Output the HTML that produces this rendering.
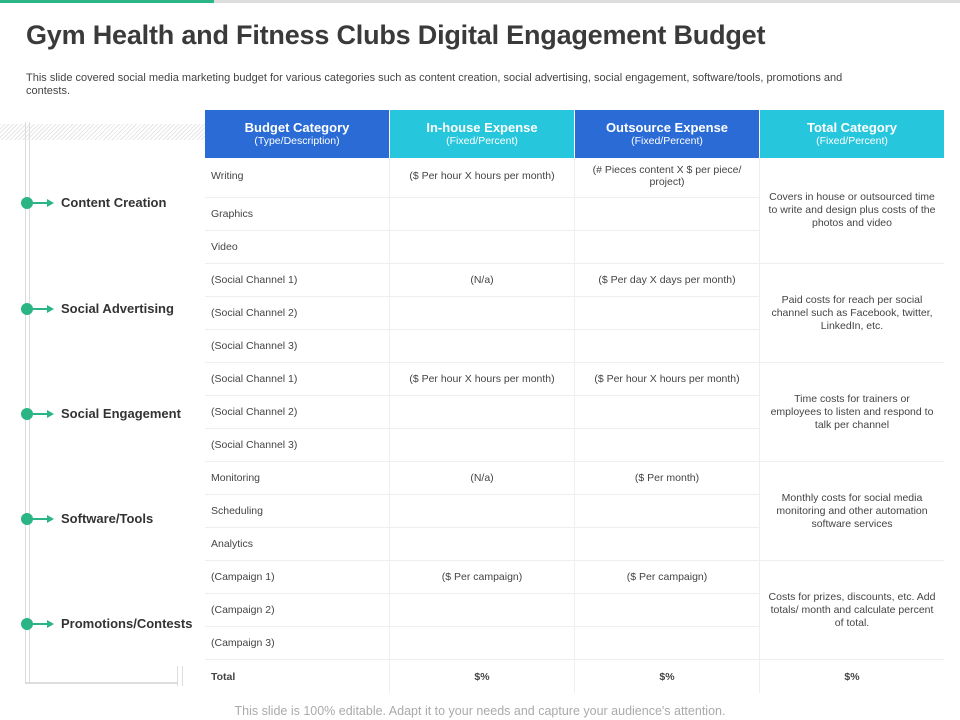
<!DOCTYPE html>
<html><head><meta charset="utf-8"><style>
body{margin:0;width:960px;height:720px;position:relative;overflow:hidden;background:#fff;font-family:"Liberation Sans",sans-serif;color:#444}
div{box-sizing:border-box}
.a{position:absolute}
.h{position:absolute;top:110px;height:48px;color:#fff;text-align:center;font-weight:bold;font-size:13px;padding-top:11px;line-height:14px}
.h small{display:block;font-weight:normal;font-size:10.5px;line-height:13px}
.c{position:absolute;font-size:10.5px;color:#444;display:flex;align-items:center;border-bottom:1px solid #eee;border-right:1px solid #eee}
.l{position:absolute;left:61px;font-weight:bold;font-size:13px;color:#333}
.dot{position:absolute;left:21px;width:12px;height:12px;border-radius:6px;background:#2bb585}
.ar{position:absolute;left:30px;width:18px;height:2px;background:#2bb585}
.ar:after{content:"";position:absolute;right:-6px;top:-3px;border-left:7px solid #2bb585;border-top:4px solid transparent;border-bottom:4px solid transparent}
</style></head><body>
<div class="a" style="left:0;top:0;width:214px;height:3px;background:#2bb585"></div>
<div class="a" style="left:214px;top:0;width:746px;height:3px;background:#ddd"></div>
<div class="a" style="left:26px;top:20px;font-size:27px;font-weight:bold;color:#3a3a3a;letter-spacing:-0.2px">Gym Health and Fitness Clubs Digital Engagement Budget</div>
<div class="a" style="left:26px;top:72px;width:830px;font-size:11px;line-height:13px;color:#444">This slide covered social media marketing budget for various categories such as content creation, social advertising, social engagement, software/tools, promotions and contests.</div>
<div class="a" style="left:0;top:124px;width:205px;height:16px;background:repeating-linear-gradient(135deg,#e6e6e6 0 1px,#fff 1px 3px)"></div>
<div class="a" style="left:25px;top:122px;width:5px;height:562px;border-left:1px solid #ddd;border-right:1px solid #ddd"></div>
<div class="a" style="left:25px;top:682px;width:153px;height:2px;background:#ddd"></div>
<div class="a" style="left:177px;top:666px;width:6px;height:20px;border-left:1px solid #ddd;border-right:1px solid #ddd"></div>
<div id="left"></div>
<div class="h" style="left:205px;width:184px;background:#2a6bd6">Budget Category<small>(Type/Description)</small></div>
<div class="h" style="left:390px;width:184px;background:#26c6dc">In-house Expense<small>(Fixed/Percent)</small></div>
<div class="h" style="left:575px;width:184px;background:#2a6bd6">Outsource Expense<small>(Fixed/Percent)</small></div>
<div class="h" style="left:760px;width:184px;background:#26c6dc">Total Category<small>(Fixed/Percent)</small></div>
<div id="tbl"></div>
<div class="a" style="left:0;width:960px;top:704px;text-align:center;font-size:12.5px;color:#aaa">This slide is 100% editable. Adapt it to your needs and capture your audience's attention.</div>
<script>
const groups=["Content Creation","Social Advertising","Social Engagement","Software/Tools","Promotions/Contests"];
const groupY=[203,309,414,519,624];
const rowLabels=["Writing","Graphics","Video","(Social Channel 1)","(Social Channel 2)","(Social Channel 3)","(Social Channel 1)","(Social Channel 2)","(Social Channel 3)","Monitoring","Scheduling","Analytics","(Campaign 1)","(Campaign 2)","(Campaign 3)"];
const inhouse=["($ Per hour X hours per month)","","","(N/a)","","","($ Per hour X hours per month)","","","(N/a)","","","($ Per campaign)","",""];
const outsource=["(# Pieces content X $ per piece/ project)","","","($ Per day X days per month)","","","($ Per hour X hours per month)","","","($ Per month)","","","($ Per campaign)","",""];
const totals=["Covers in house or outsourced time to write and design plus costs of the photos and video","Paid costs for reach per social channel such as Facebook, twitter, LinkedIn, etc.","Time costs for trainers or employees to listen and respond to talk per channel","Monthly costs for social media monitoring and other automation software services","Costs for prizes, discounts, etc. Add totals/ month and calculate percent of total."];
const L=document.getElementById('left');
groups.forEach((g,i)=>{
 const d=document.createElement('div');d.className='dot';d.style.top=(groupY[i]-6)+'px';
 
 L.appendChild(d);
 const a=document.createElement('div');a.className='ar';a.style.top=(groupY[i]-1)+'px';
 
 L.appendChild(a);
 const t=document.createElement('div');t.className='l';t.style.top=(groupY[i]-8)+'px';t.textContent=g;
 
 L.appendChild(t);
});
const T=document.getElementById('tbl');
const top0=158,rh=33,first=40;
function rowTop(i){return i===0?top0:top0+first+(i-1)*rh;}
function rowH(i){return i===0?first:rh;}
function cell(x,w,y,h,txt,center,name,extra){
 const c=document.createElement('div');c.className='c';
 c.style.left=x+'px';c.style.width=w+'px';c.style.top=y+'px';c.style.height=h+'px';
 c.style.justifyContent=center?'center':'flex-start';c.style.textAlign=center?'center':'left';
 c.style.padding=center?'0 10px':'0 0 0 6px';
 if(extra)Object.assign(c.style,extra);
 c.textContent=txt;
 
 
 T.appendChild(c);return c;
}
rowLabels.forEach((r,i)=>{
 const y=rowTop(i),h=rowH(i);
 const ex=i===0?{alignItems:'flex-start',paddingTop:'12px'}:{};
 cell(205,185,y,h,r,false,'row-label',ex);
 cell(390,185,y,h,inhouse[i],true,'inhouse-cell',i===0?{alignItems:'flex-start',paddingTop:'12px'}:null);
 cell(575,185,y,h,outsource[i],true,'outsource-cell',i===0?{alignItems:'flex-start',paddingTop:'6px',padding:'6px 16px 0'}:null);
});
totals.forEach((t,g)=>{
 const y=rowTop(g*3),h=rowTop(g*3+3)-y;
 cell(760,184,y,h,t,true,'total-category-cell',{borderRight:'none',lineHeight:'13px',padding:'0 8px'});
});
const ty=rowTop(15);
cell(205,185,ty,33,'Total',false,'total-row-label',{fontWeight:'bold',borderBottom:'none'});
cell(390,185,ty,33,'$%',true,'total-inhouse',{fontWeight:'bold',borderBottom:'none'});
cell(575,185,ty,33,'$%',true,'total-outsource',{fontWeight:'bold',borderBottom:'none'});
cell(760,184,ty,33,'$%',true,'total-total',{fontWeight:'bold',borderBottom:'none',borderRight:'none'});
</script>
</body></html>
